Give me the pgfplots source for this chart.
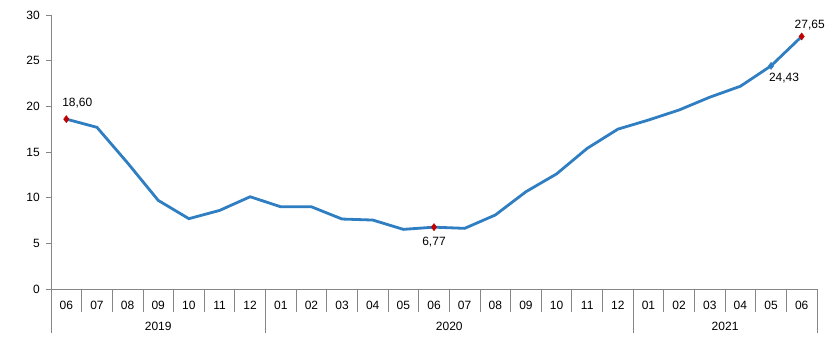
\documentclass[border=0pt]{standalone}
\usepackage{fontspec}
\setmainfont{Liberation Sans}
\usepackage{pgfplots}
\pgfplotsset{compat=1.18}
\definecolor{lineblue}{HTML}{2E7EC1}
\definecolor{mred}{HTML}{C00000}
\definecolor{axgray}{HTML}{868686}
\begin{document}
\fontsize{12bp}{14bp}\selectfont
\begin{tikzpicture}
\useasboundingbox (0,0) rectangle (829bp,353bp);
\begin{axis}[
  at={(51bp,64bp)}, anchor=south west,
  width=766bp, height=274bp, scale only axis,
  xmin=-0.5, xmax=24.5, ymin=0, ymax=30,
  axis lines*=left,
  axis line style={axgray, line width=0.8bp},
  clip=false,
  ytick={0,5,...,30},
  tick align=outside,
  major tick length=5bp,
  y tick style={axgray, line width=0.8bp},
  x tick style={draw=none},
  xtick={0,...,24},
  xticklabels={06,07,08,09,10,11,12,01,02,03,04,05,06,07,08,09,10,11,12,01,02,03,04,05,06},
  xticklabel style={yshift=-3bp},
  yticklabel style={xshift=-2bp},
  ticklabel style={font=\fontsize{12bp}{14bp}\selectfont, text=black},
  /pgf/number format/assume math mode=true,
]
\addplot[lineblue, line width=2.8bp, mark=none] coordinates {
(0,18.60) (1,17.7) (2,13.8) (3,9.7) (4,7.7) (5,8.6) (6,10.1)
(7,9.0) (8,9.0) (9,7.66) (10,7.55) (11,6.53) (12,6.77) (13,6.64) (14,8.1) (15,10.65) (16,12.6) (17,15.4) (18,17.5)
(19,18.5) (20,19.6) (21,21.0) (22,22.2) (23,24.43) (24,27.65)
};
\addplot[only marks, mark=diamond*, mark size=3.6bp, lineblue] coordinates {(23,24.43)};
\addplot[only marks, mark=diamond*, mark size=3.6bp, mred, mark options={draw=mred, fill=mred}] coordinates {(0,18.60) (12,6.77) (24,27.65)};
\pgfplotsinvokeforeach{0.5,1.5,...,23.5}{
  \draw[axgray, line width=0.8bp] (axis cs:#1,0) -- ++(0pt,-23bp);
}
\pgfplotsinvokeforeach{-0.5,6.5,18.5,24.5}{
  \draw[axgray, line width=0.8bp] (axis cs:#1,0) -- ++(0pt,-44bp);
}
\node at ([yshift=-37bp]axis cs:3,0) {2019};
\node at ([yshift=-37bp]axis cs:12.5,0) {2020};
\node at ([yshift=-37bp]axis cs:21.5,0) {2021};
\node at ([xshift=11bp,yshift=16bp]axis cs:0,18.60) {18,60};
\node at ([yshift=-15bp]axis cs:12,6.77) {6,77};
\node at ([xshift=13bp,yshift=-12bp]axis cs:23,24.43) {24,43};
\node at ([xshift=8bp,yshift=11bp]axis cs:24,27.65) {27,65};
\end{axis}
\end{tikzpicture}
\end{document}
